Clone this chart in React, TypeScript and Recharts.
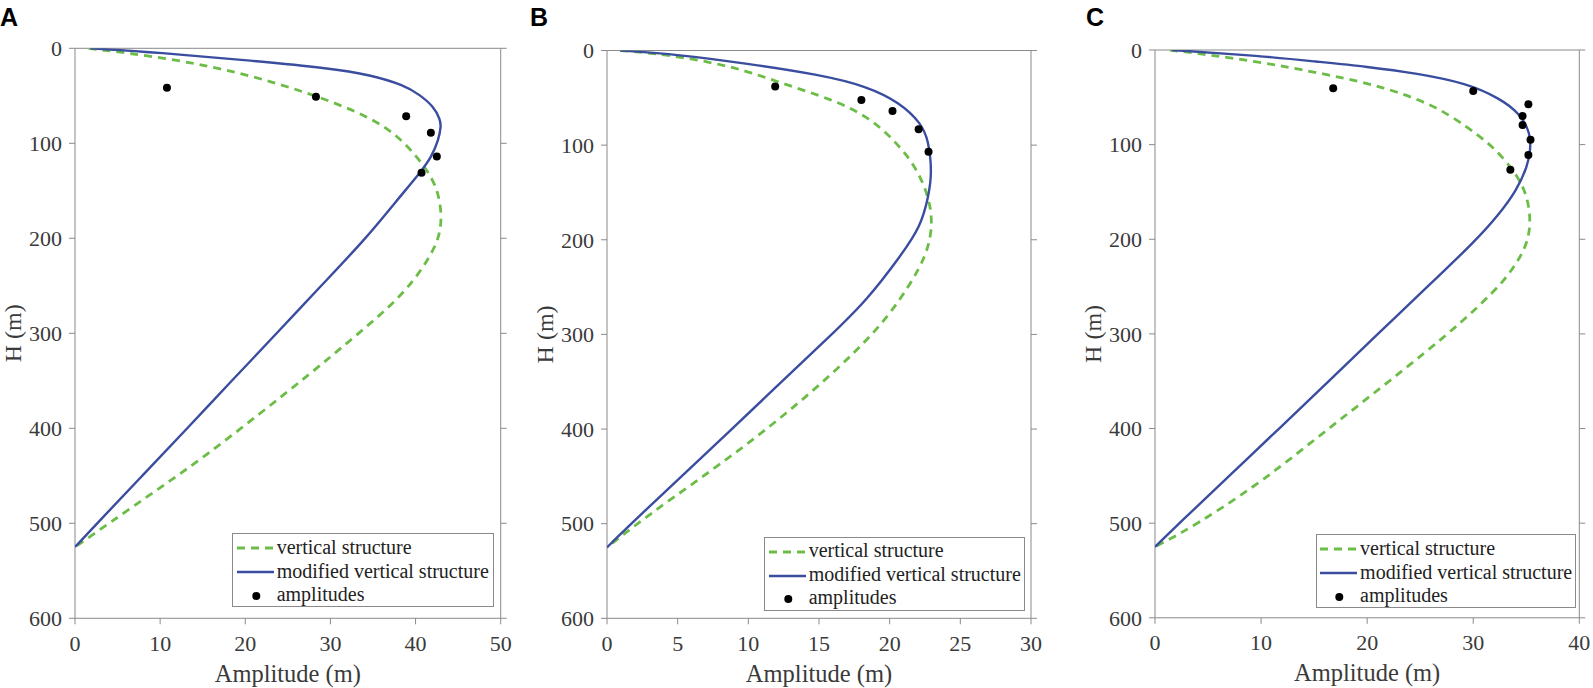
import React from "react";
import { ScatterChart, Scatter, XAxis, YAxis, Curve } from "recharts";

type Pt = { x: number; y: number };

// depth ticks shared by all panels, amplitude ticks per panel
const depthTicks = [0, 100, 200, 300, 400, 500, 600];
const ampTicksA = [0, 10, 20, 30, 40, 50];
const ampTicksB = [0, 5, 10, 15, 20, 25, 30];
const ampTicksC = [0, 10, 20, 30, 40];

// panel A
const verticalA: Pt[] = [
  { x: 1.6, y: 0 }, { x: 11.2, y: 10.5 }, { x: 19.8, y: 26.3 }, { x: 27.6, y: 47.4 },
  { x: 34.7, y: 72 }, { x: 38.6, y: 96.5 }, { x: 41.7, y: 131.6 }, { x: 42.7, y: 152.6 },
  { x: 43.1, y: 177 }, { x: 42.8, y: 198 }, { x: 41.9, y: 216 }, { x: 39.9, y: 244 },
  { x: 37.0, y: 272 }, { x: 32.4, y: 307 }, { x: 27.7, y: 342 }, { x: 21.8, y: 384 },
  { x: 15.2, y: 430 }, { x: 9.6, y: 465 }, { x: 4.0, y: 500 }, { x: 0, y: 525 },
];
const modifiedA: Pt[] = [
  { x: 1.8, y: 0 }, { x: 10, y: 4.6 }, { x: 19.8, y: 12.3 }, { x: 30.0, y: 21 },
  { x: 34.7, y: 28 }, { x: 38.6, y: 38.6 }, { x: 40.5, y: 49 }, { x: 42.1, y: 61 },
  { x: 42.9, y: 75 }, { x: 43.0, y: 82 }, { x: 42.7, y: 96.5 }, { x: 41.9, y: 114 },
  { x: 40.5, y: 131.6 }, { x: 37.8, y: 160 }, { x: 34.2, y: 200 }, { x: 28.9, y: 250 },
  { x: 23.7, y: 300 }, { x: 18.4, y: 350 }, { x: 13.2, y: 400 }, { x: 7.9, y: 450 },
  { x: 2.6, y: 500 }, { x: 0, y: 525 },
];
const amplitudesA: Pt[] = [
  { x: 10.8, y: 41.4 }, { x: 28.3, y: 50.9 }, { x: 38.9, y: 71.6 },
  { x: 41.8, y: 88.8 }, { x: 42.5, y: 114 }, { x: 40.7, y: 130.9 },
];

// panel B
const verticalB: Pt[] = [
  { x: 0.94, y: 0 }, { x: 4.25, y: 4.2 }, { x: 8.96, y: 16.6 }, { x: 12.26, y: 34.2 },
  { x: 16.0, y: 51.9 }, { x: 18.4, y: 69.5 }, { x: 20.05, y: 90.7 }, { x: 21.5, y: 115.3 },
  { x: 22.4, y: 140 }, { x: 22.9, y: 164.7 }, { x: 23.0, y: 185.9 }, { x: 22.75, y: 207 },
  { x: 22.2, y: 228.2 }, { x: 20.75, y: 263.5 }, { x: 18.9, y: 298.8 }, { x: 16.0, y: 341 },
  { x: 12.7, y: 383.4 }, { x: 9.4, y: 422 }, { x: 6.1, y: 457.5 }, { x: 3.1, y: 489.2 },
  { x: 0.94, y: 514 }, { x: 0, y: 525 },
];
const modifiedB: Pt[] = [
  { x: 0.94, y: 0 }, { x: 5, y: 4.2 }, { x: 9.9, y: 13.8 }, { x: 15.0, y: 25.4 },
  { x: 18.4, y: 37.7 }, { x: 20.75, y: 55.4 }, { x: 22.2, y: 76.5 }, { x: 22.75, y: 94.2 },
  { x: 23.0, y: 129.5 }, { x: 22.75, y: 154 }, { x: 22.2, y: 186 }, { x: 20.75, y: 217.6 },
  { x: 18.4, y: 263.5 }, { x: 16.0, y: 298.8 }, { x: 11.5, y: 362 }, { x: 6.8, y: 429 },
  { x: 2.2, y: 492.8 }, { x: 0, y: 525 },
];
const amplitudesB: Pt[] = [
  { x: 11.9, y: 38.1 }, { x: 18.0, y: 52.2 }, { x: 20.2, y: 63.8 },
  { x: 22.05, y: 83.2 }, { x: 22.75, y: 106.9 },
];

// panel C
const verticalC: Pt[] = [
  { x: 1.4, y: 0 }, { x: 9.0, y: 10.6 }, { x: 16.5, y: 26.4 }, { x: 21.5, y: 38.8 },
  { x: 26.3, y: 58.1 }, { x: 29.4, y: 81 }, { x: 31.9, y: 102.2 }, { x: 33.8, y: 126.8 },
  { x: 34.9, y: 148 }, { x: 35.4, y: 172.7 }, { x: 35.3, y: 197.3 }, { x: 34.5, y: 218.5 },
  { x: 33.0, y: 243 }, { x: 30.5, y: 271.3 }, { x: 27.3, y: 303 }, { x: 23.4, y: 338.3 },
  { x: 19.0, y: 377 }, { x: 14.6, y: 415.8 }, { x: 10.2, y: 454.5 }, { x: 6.0, y: 486.3 },
  { x: 2.4, y: 511 }, { x: 0, y: 525 },
];
const modifiedC: Pt[] = [
  { x: 1.57, y: 0 }, { x: 10, y: 6.3 }, { x: 15.25, y: 12.3 }, { x: 20, y: 17.6 },
  { x: 24.7, y: 24.7 }, { x: 29.4, y: 35.2 }, { x: 32.5, y: 51.1 }, { x: 34.4, y: 67 },
  { x: 35.4, y: 88 }, { x: 35.4, y: 105.7 }, { x: 35.1, y: 123.3 }, { x: 34.1, y: 148 },
  { x: 32.5, y: 172.7 }, { x: 30.3, y: 200.8 }, { x: 25.7, y: 250 }, { x: 21.0, y: 300 },
  { x: 16.4, y: 350 }, { x: 11.7, y: 400 }, { x: 7.0, y: 450 }, { x: 2.3, y: 500 },
  { x: 0, y: 525 },
];
const amplitudesC: Pt[] = [
  { x: 16.8, y: 40.5 }, { x: 30.0, y: 43.3 }, { x: 35.2, y: 57.4 }, { x: 34.65, y: 69.8 },
  { x: 34.65, y: 79.3 }, { x: 35.4, y: 94.8 }, { x: 35.2, y: 111 }, { x: 33.5, y: 126.5 },
];

const legendLabels = ["vertical structure", "modified vertical structure", "amplitudes"];

const SERIF = '"Liberation Serif", Tinos, "Times New Roman", "Nimbus Roman", "DejaVu Serif", serif';
const GREEN = "#6cbd47";
const BLUE = "#3a4d9f";
const AXIS = "#8a8a8a";
const TEXT = "#3a3a3a";
const DASH = "8 6";

const panels = [
  {
    name: "A", vertical: verticalA, modified: modifiedA, amps: amplitudesA, xMax: 50, xTicks: ampTicksA,
    plotLeft: 75, plotRight: 500.7, plotTop: 48.3, plotBottom: 618.3, labelLeft: 0,
    legendLeft: 232.3, legendTop: 533.3, legendWidth: 262,
  },
  {
    name: "B", vertical: verticalB, modified: modifiedB, amps: amplitudesB, xMax: 30, xTicks: ampTicksB,
    plotLeft: 606.7, plotRight: 1030.7, plotTop: 50.5, plotBottom: 618.3, labelLeft: 530,
    legendLeft: 764.3, legendTop: 536.5, legendWidth: 261,
  },
  {
    name: "C", vertical: verticalC, modified: modifiedC, amps: amplitudesC, xMax: 40, xTicks: ampTicksC,
    plotLeft: 1155, plotRight: 1579.3, plotTop: 50, plotBottom: 617.8, labelLeft: 1086,
    legendLeft: 1315.7, legendTop: 534.3, legendWidth: 260,
  },
];

const noShape = () => <g />;
const dotShape = (p: any) => <circle cx={p.cx} cy={p.cy} r={4} fill="#000" />;
const blankTick = () => <g />;

// smooth B-spline joint through the read-off points
const greenLine = (p: any) => (
  <Curve points={p.points} type="basis" fill="none" stroke={GREEN} strokeWidth={2.8} strokeDasharray={DASH} />
);
const blueLine = (p: any) => (
  <Curve points={p.points} type="basis" fill="none" stroke={BLUE} strokeWidth={2.4} />
);

const tickStyle = { fontFamily: SERIF, fontSize: 22, fill: TEXT };

const xLabel = (p: any) => {
  const vb = p.viewBox;
  return (
    <text x={vb.x + vb.width / 2} y={vb.y + 63.4} textAnchor="middle"
      style={{ fontFamily: SERIF }} fontSize={24.5} fill={TEXT}>
      Amplitude (m)
    </text>
  );
};

// y axis box is 10px wider than the reference gutter so the rotated label is not clipped
const yLabel = (p: any) => {
  const vb = p.viewBox;
  const x = vb.x + 31.5;
  const y = vb.y + vb.height / 2;
  return (
    <text x={x} y={y} transform={`rotate(-90, ${x}, ${y})`} textAnchor="middle"
      style={{ fontFamily: SERIF }} fontSize={24} fill={TEXT}>
      H (m)
    </text>
  );
};

const LegendBox = ({ left, top, width }: { left: number; top: number; width: number }) => {
  const baselines = [20, 44, 67.5];
  return (
    <div style={{
      position: "absolute", left, top, width, height: 74, boxSizing: "border-box",
      border: `1px solid ${AXIS}`, background: "#fff",
    }}>
      {legendLabels.map((lab, i) => (
        <React.Fragment key={lab}>
          <svg style={{ position: "absolute", left: 3.4, top: baselines[i] - 12 }} width={38} height={12}>
            {i === 0 && <line x1={0} x2={37} y1={6} y2={6} stroke={GREEN} strokeWidth={2.8} strokeDasharray={DASH} />}
            {i === 1 && <line x1={0} x2={37} y1={6} y2={6} stroke={BLUE} strokeWidth={2.4} />}
            {i === 2 && <circle cx={19.3} cy={6} r={4} fill="#000" />}
          </svg>
          <span style={{
            position: "absolute", left: 43.4, top: baselines[i] - 17.75, whiteSpace: "nowrap",
            fontFamily: SERIF, fontSize: 20, lineHeight: "20px", color: "#222",
          }}>
            {lab}
          </span>
        </React.Fragment>
      ))}
    </div>
  );
};

const Panel = ({ cfg }: { cfg: (typeof panels)[number] }) => {
  const yAxisW = 85;
  const rightW = 10;
  const topH = 10;
  const bottomH = 60;
  const H = 688;
  const W = cfg.plotRight - cfg.plotLeft + yAxisW + rightW + 10;
  return (
    <>
      <div style={{ position: "absolute", left: cfg.plotLeft - yAxisW, top: 0 }}>
        <ScatterChart width={W} height={H} style={{ fontFamily: SERIF }}
          margin={{ top: cfg.plotTop - topH, right: 10, bottom: H - cfg.plotBottom - bottomH, left: 0 }}>
          <XAxis xAxisId={0} type="number" dataKey="x" domain={[0, cfg.xMax]} ticks={cfg.xTicks}
            allowDataOverflow height={bottomH} stroke={AXIS} tickSize={6} tickMargin={11}
            tick={tickStyle} tickLine={{ stroke: AXIS }} interval={0} label={xLabel} />
          <XAxis xAxisId="top" orientation="top" type="number" domain={[0, cfg.xMax]} ticks={cfg.xTicks}
            allowDataOverflow height={topH} stroke={AXIS} tickSize={6} tick={blankTick}
            tickLine={{ stroke: AXIS }} interval={0} />
          <YAxis yAxisId={0} type="number" dataKey="y" domain={[0, 600]} ticks={depthTicks} reversed
            allowDataOverflow width={yAxisW} stroke={AXIS} tickSize={6} tickMargin={7}
            tick={tickStyle} tickLine={{ stroke: AXIS }} interval={0} label={yLabel} />
          <YAxis yAxisId="right" orientation="right" type="number" domain={[0, 600]} ticks={depthTicks} reversed
            allowDataOverflow width={rightW} stroke={AXIS} tickSize={6} tick={blankTick}
            tickLine={{ stroke: AXIS }} interval={0} />
          <Scatter name="vertical structure" data={cfg.vertical} shape={noShape} isAnimationActive={false}
            line={greenLine} />
          <Scatter name="modified vertical structure" data={cfg.modified} shape={noShape} isAnimationActive={false}
            line={blueLine} />
          <Scatter name="amplitudes" data={cfg.amps} shape={dotShape} isAnimationActive={false} />
        </ScatterChart>
      </div>
      <div style={{
        position: "absolute", left: cfg.labelLeft, top: 4.7, fontFamily: '"Liberation Sans", Arial, sans-serif',
        fontWeight: 700, fontSize: 25, lineHeight: "25px", color: "#000",
      }}>
        {cfg.name}
      </div>
      <LegendBox left={cfg.legendLeft} top={cfg.legendTop} width={cfg.legendWidth} />
    </>
  );
};

export default function App() {
  return (
    <div style={{ position: "absolute", left: 0, top: 0, width: 1593, height: 688, background: "#fff" }}>
      {panels.map((p) => (
        <Panel key={p.name} cfg={p} />
      ))}
    </div>
  );
}
